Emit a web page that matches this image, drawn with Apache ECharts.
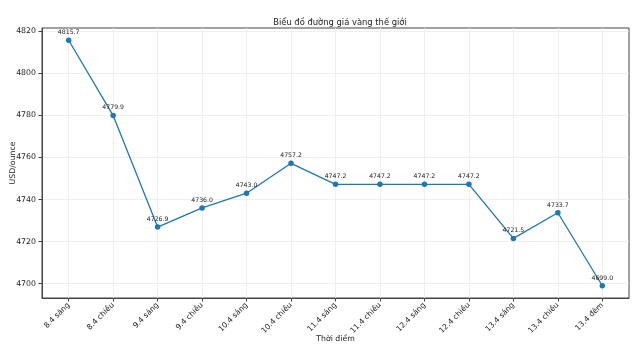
<!DOCTYPE html>
<html><head><meta charset="utf-8">
<script src="https://cdn.jsdelivr.net/npm/echarts@6/dist/echarts.min.js"></script>
<style>html,body{margin:0;padding:0;background:#fff}#c{width:640px;height:356px}</style>
</head><body><div id="c"></div>
<script>
const categories = ["8.4 sáng","8.4 chiều","9.4 sáng","9.4 chiều","10.4 sáng","10.4 chiều","11.4 sáng","11.4 chiều","12.4 sáng","12.4 chiều","13.4 sáng","13.4 chiều","13.4 đêm"];
const prices = [4815.7, 4779.9, 4726.9, 4736.0, 4743.0, 4757.2, 4747.2, 4747.2, 4747.2, 4747.2, 4721.5, 4733.7, 4699.0];
const yTicks = [4700, 4720, 4740, 4760, 4780, 4800, 4820];

const idx = categories.map((_, i) => i);
const yLo = Math.min(...prices), yHi = Math.max(...prices);
const yPad = (yHi - yLo) * 0.05;
const xPad = (categories.length - 1) * 0.05;
const font = 'DejaVu Sans';
const gridColor = '#ebebeb';

const chart = echarts.init(document.getElementById('c'), null, {renderer: 'canvas'});
chart.setOption({
  animation: false,
  title: {
    text: 'Biểu đồ đường giá vàng thế giới',
    left: 335, top: 14, textAlign: 'center',
    textStyle: {fontFamily: font, fontSize: 8.4, fontWeight: 'normal', color: '#222'}
  },
  grid: {left: 42, right: 11, top: 28, bottom: 58, containLabel: false, outerBoundsMode: 'none',
    show: true, borderColor: '#444', borderWidth: 1, backgroundColor: 'transparent'},
  xAxis: {
    type: 'value', min: -xPad, max: categories.length - 1 + xPad,
    name: 'Thời điểm', nameLocation: 'middle', nameGap: 37, nameMoveOverlap: false,
    nameTextStyle: {fontFamily: font, fontSize: 7.8, color: '#222', verticalAlign: 'top'},
    axisLine: {show: true, onZero: false, lineStyle: {color: '#444'}},
    axisTick: {show: true, customValues: idx, length: 3.5, lineStyle: {color: '#444'}},
    axisLabel: {customValues: idx, rotate: 45, fontFamily: font, fontSize: 7.6, color: '#222', margin: 6,
      formatter: v => categories[Math.round(v)]},
    splitLine: {show: true, lineStyle: {color: gridColor, width: 0.8}}
  },
  yAxis: {
    type: 'value', min: yLo - yPad, max: yHi + yPad,
    name: 'USD/ounce', nameLocation: 'middle', nameGap: 25, nameRotate: 90, nameMoveOverlap: false,
    nameTextStyle: {fontFamily: font, fontSize: 7.8, color: '#222'},
    axisLine: {show: true, onZero: false, lineStyle: {color: '#444'}},
    axisTick: {show: true, customValues: yTicks, length: 3.5, lineStyle: {color: '#444'}},
    axisLabel: {customValues: yTicks, fontFamily: font, fontSize: 7.8, color: '#222', margin: 6,
      formatter: v => String(Math.round(v))},
    splitLine: {show: true, lineStyle: {color: gridColor, width: 0.8}}
  },
  series: [{
    type: 'line',
    data: prices.map((v, i) => [i, v]),
    symbol: 'circle', symbolSize: 5.5,
    itemStyle: {color: '#1f77b4'},
    lineStyle: {color: '#1f77b4', width: 1.3},
    label: {show: true, position: 'top', distance: 2, fontFamily: font, fontSize: 6.2, color: '#222',
      formatter: p => p.value[1].toFixed(1)},
    z: 5
  }]
});
</script></body></html>
